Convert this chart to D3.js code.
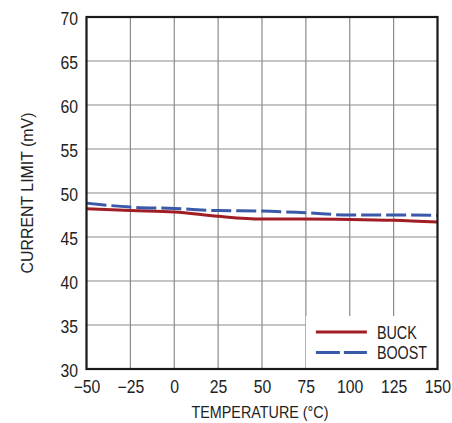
<!DOCTYPE html>
<html lang="en">
<head>
    <meta charset="UTF-8">
    <title>Current Limit vs Temperature</title>
    <style>
        body { margin: 0; background: #fff; overflow: hidden; }
        svg { display: block; }
        text {
            font-family: "Liberation Sans", Arial, sans-serif;
            fill: #222;
        }
        .tick text { font-size: 17.5px; }
        .axis-label { font-size: 17px; }
        .legend-text { font-size: 17.5px; }
    </style>
</head>
<body>
    <svg width="452" height="423"></svg>

    <script src="https://d3js.org/d3.v7.min.js"></script>

    <script>
        // Data
        const temps = [-50, -25, 0, 25, 50, 75, 100, 125, 150];
        const buck = [48.2, 48.0, 47.85, 47.35, 47.05, 47.05, 47.0, 46.9, 46.7];
        const boost = [48.85, 48.4, 48.25, 48.0, 47.95, 47.75, 47.5, 47.5, 47.45];

        const xTicks = [-50, -25, 0, 25, 50, 75, 100, 125, 150];
        const yTicks = [30, 35, 40, 45, 50, 55, 60, 65, 70];

        const seriesNames = ['BUCK', 'BOOST'];
        const seriesColors = ['#a11d24', '#3a59a8'];

        const margin = { left: 86.5, right: 14.5, top: 17, bottom: 54 };

        // the original uses a narrow face, squeeze the text horizontally
        const tickSqueeze = 0.9;
        const legendSqueeze = 0.82;

        const svg = d3.select('svg');
        const width = +svg.attr('width');
        const height = +svg.attr('height');
        const innerWidth = width - margin.left - margin.right;
        const innerHeight = height - margin.top - margin.bottom;

        const xScale = d3.scaleLinear().domain([-50, 150]).range([0, innerWidth]);
        const yScale = d3.scaleLinear().domain([30, 70]).range([innerHeight, 0]);

        // minus sign like the original
        const fmt = function (d) {
            return d < 0 ? '\u2212' + Math.abs(d) : String(d);
        };

        const group = svg.append('g')
            .attr('transform', 'translate(' + margin.left + ' ' + margin.top + ')');

        // grid lines
        group.append('g')
            .selectAll('line')
            .data(xTicks)
            .enter()
            .append('line')
            .attr('x1', d => xScale(d))
            .attr('x2', d => xScale(d))
            .attr('y1', 0)
            .attr('y2', innerHeight)
            .attr('stroke', '#8a8a8a')
            .attr('stroke-width', 1.2);

        group.append('g')
            .selectAll('line')
            .data(yTicks)
            .enter()
            .append('line')
            .attr('x1', 0)
            .attr('x2', innerWidth)
            .attr('y1', d => yScale(d))
            .attr('y2', d => yScale(d))
            .attr('stroke', '#8a8a8a')
            .attr('stroke-width', 1.2);

        // axes (labels only, grid is drawn above)
        const xAxis = d3.axisBottom(xScale)
            .tickValues(xTicks)
            .tickFormat(fmt)
            .tickSize(0)
            .tickPadding(12);

        const yAxis = d3.axisLeft(yScale)
            .tickValues(yTicks)
            .tickFormat(fmt)
            .tickSize(0)
            .tickPadding(8);

        const xAxisG = group.append('g')
            .attr('transform', 'translate(0 ' + innerHeight + ')')
            .call(xAxis);

        const yAxisG = group.append('g').call(yAxis);

        xAxisG.select('.domain').remove();
        yAxisG.select('.domain').remove();
        group.selectAll('.tick text')
            .attr('fill', '#222')
            .attr('font-family', null)
            .attr('font-size', null);
        xAxisG.selectAll('.tick text')
            .attr('transform', 'scale(' + tickSqueeze + ' 1)');
        yAxisG.selectAll('.tick text')
            .attr('x', -8.5 / tickSqueeze)
            .attr('dy', '0.4em')
            .attr('transform', 'scale(' + tickSqueeze + ' 1)');

        // lines
        const line = d3.line()
            .x(d => xScale(d[0]))
            .y(d => yScale(d[1]))
            .curve(d3.curveMonotoneX);

        const series = [buck, boost];

        group.selectAll('.series')
            .data(series)
            .enter()
            .append('path')
            .attr('class', 'series')
            .attr('d', d => line(temps.map((t, i) => [t, d[i]])))
            .attr('fill', 'none')
            .attr('stroke', (d, i) => seriesColors[i])
            .attr('stroke-width', 3)
            .attr('stroke-dasharray', (d, i) => i === 1 ? '20,5' : null);

        // legend box
        const legend = group.append('g')
            .attr('transform', 'translate(' + xScale(75) + ' ' + (innerHeight - 53) + ')');

        legend.append('rect')
            .attr('x', 0)
            .attr('y', 0)
            .attr('width', innerWidth - xScale(75))
            .attr('height', 53)
            .attr('fill', '#fff');

        seriesNames.forEach(function (name, i) {
            const y = 16 + i * 20.5;
            legend.append('line')
                .attr('x1', 10)
                .attr('x2', 61)
                .attr('y1', y)
                .attr('y2', y)
                .attr('stroke', seriesColors[i])
                .attr('stroke-width', 3)
                .attr('stroke-dasharray', i === 1 ? '24,4' : null);
            legend.append('text')
                .attr('class', 'legend-text')
                .attr('transform', 'translate(71 ' + (y + 6.5) + ') scale(' + legendSqueeze + ' 1)')
                .text(name);
        });

        // frame
        group.append('rect')
            .attr('x', 0)
            .attr('y', 0)
            .attr('width', innerWidth)
            .attr('height', innerHeight)
            .attr('fill', 'none')
            .attr('stroke', '#1a1a1a')
            .attr('stroke-width', 2.2);

        // axis titles
        group.append('text')
            .attr('class', 'axis-label')
            .attr('x', innerWidth / 2 - 2)
            .attr('y', innerHeight + 49)
            .attr('text-anchor', 'middle')
            .attr('textLength', 137)
            .attr('lengthAdjust', 'spacingAndGlyphs')
            .text('TEMPERATURE (°C)');

        group.append('text')
            .attr('class', 'axis-label')
            .attr('transform', 'rotate(-90)')
            .attr('x', -innerHeight / 2)
            .attr('y', -53.5)
            .attr('text-anchor', 'middle')
            .attr('textLength', 161)
            .attr('lengthAdjust', 'spacingAndGlyphs')
            .text('CURRENT LIMIT (mV)');
    </script>
</body>
</html>
